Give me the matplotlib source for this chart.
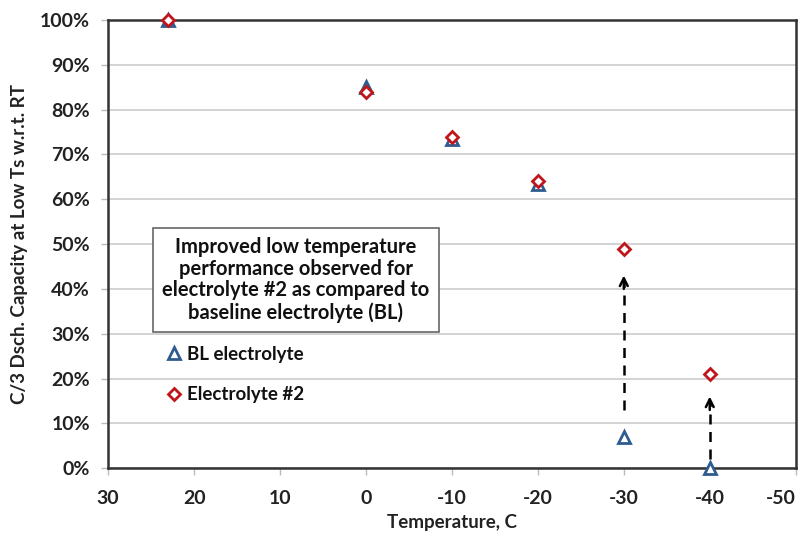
import matplotlib.pyplot as plt
from matplotlib.ticker import PercentFormatter

plt.rcParams['font.family'] = ['Lato', 'DejaVu Sans']
plt.rcParams['axes.unicode_minus'] = False

# temperatures (C) and capacity retention relative to room temperature
temps = [23, 0, -10, -20, -30, -40]
bl_capacity = [1.00, 0.85, 0.735, 0.635, 0.07, 0.0]
e2_capacity = [1.00, 0.84, 0.74, 0.64, 0.49, 0.21]

# dashed arrows showing the improvement at the coldest temperatures
arrow_x = [-30, -40]
arrow_start = [0.13, 0.02]
arrow_end = [0.43, 0.16]

x_ticks = [30, 20, 10, 0, -10, -20, -30, -40, -50]
y_ticks = [0, 0.1, 0.2, 0.3, 0.4, 0.5, 0.6, 0.7, 0.8, 0.9, 1.0]

blue = '#2F5C8F'
red = '#C0161B'

fig = plt.figure(figsize=(8.07, 5.40), dpi=100)
ax = fig.add_axes([0.134, 0.133, 0.852, 0.830])

ax.plot(temps, bl_capacity, linestyle='none', marker='^', markersize=8,
        markerfacecolor='white', markeredgecolor=blue, markeredgewidth=2,
        label='BL electrolyte', clip_on=False, zorder=4)
ax.plot(temps, e2_capacity, linestyle='none', marker='D', markersize=6.5,
        markerfacecolor='white', markeredgecolor=red, markeredgewidth=2,
        label='Electrolyte #2', clip_on=False, zorder=5)

# dashed shaft plus a solid open head
for x, y0, y1 in zip(arrow_x, arrow_start, arrow_end):
    ax.plot([x, x], [y0, y1 - 0.015], color='black', lw=1.8,
            linestyle=(0, (4, 3)), zorder=3)
    ax.annotate('', xy=(x, y1), xytext=(x, y1 - 0.03),
                arrowprops=dict(arrowstyle='->', color='black', lw=1.8,
                                mutation_scale=14, shrinkA=0, shrinkB=0))

ax.set_xlim(30, -50)
ax.set_ylim(0, 1.0)
ax.set_xticks(x_ticks)
ax.set_yticks(y_ticks)
ax.yaxis.set_major_formatter(PercentFormatter(1.0, decimals=0))
ax.grid(axis='y', color='#cccccc', linewidth=1.2)
ax.set_axisbelow(True)

for side in ['left', 'right', 'top', 'bottom']:
    ax.spines[side].set_color('#333333')
    ax.spines[side].set_linewidth(1.8)

ax.tick_params(axis='both', length=5, width=1, color='#bbbbbb',
               labelsize=14, pad=8)
ax.tick_params(axis='x', pad=11)
for lbl in ax.get_xticklabels() + ax.get_yticklabels():
    lbl.set_fontweight('bold')
    lbl.set_color('#222222')
ax.get_xticklabels()[-1].set_horizontalalignment('right')

ax.set_xlabel('Temperature, C', fontsize=13.5, fontweight='bold',
              color='#222222', labelpad=5)
ax.set_ylabel('C/3 Dsch. Capacity at Low Ts w.r.t. RT', fontsize=13.5,
              fontweight='bold', color='#222222', labelpad=9)

ax.text(0.273, 0.42,
        'Improved low temperature\nperformance observed for\n'
        'electrolyte #2 as compared to\nbaseline electrolyte (BL)',
        transform=ax.transAxes, ha='center', va='center', fontsize=14.5,
        fontweight='bold', color='#111111', linespacing=1.1, zorder=6,
        bbox=dict(boxstyle='square,pad=0.45', facecolor='white',
                  edgecolor='#666666', linewidth=1.2))

leg = ax.legend(loc='upper left', bbox_to_anchor=(0.068, 0.29),
                frameon=False, fontsize=13.5, handletextpad=0.1,
                labelspacing=1.25, handlelength=1.2, borderaxespad=0)
for t in leg.get_texts():
    t.set_fontweight('bold')
    t.set_color('#111111')

fig.savefig('out.png', dpi=100)
